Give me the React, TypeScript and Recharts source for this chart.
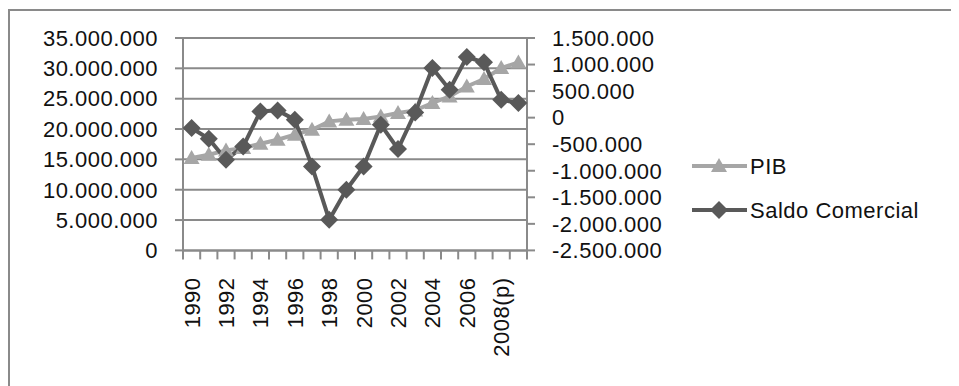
import React from 'react'
import { LineChart, Line, XAxis, YAxis, CartesianGrid } from 'recharts'

// anos (2008 e 2009 são projeções)
const anos = [
  '1990', '1991', '1992', '1993', '1994', '1995', '1996', '1997', '1998', '1999',
  '2000', '2001', '2002', '2003', '2004', '2005', '2006', '2007', '2008(p)', '2009(p)',
]

const pib = [
  15220000, 15770000, 16480000, 16870000, 17580000, 18240000, 19070000, 19890000, 21260000, 21540000,
  21650000, 22080000, 22640000, 23070000, 24290000, 25380000, 27020000, 28240000, 30060000, 30980000,
]

const saldoComercial = [
  -195000, -397000, -792000, -541000, 118000, 137000, -39000, -918000, -1922000, -1357000,
  -918000, -133000, -590000, 99000, 935000, 526000, 1142000, 1041000, 338000, 276000,
]

const ticksPib = [0, 5000000, 10000000, 15000000, 20000000, 25000000, 30000000, 35000000]
const ticksSaldo = [-2500000, -2000000, -1500000, -1000000, -500000, 0, 500000, 1000000, 1500000]

const data = anos.map((ano, i) => ({ ano, pib: pib[i], saldo: saldoComercial[i] }))

const W = 949
const H = 375
const LEFT_W = 173
const RIGHT_W = 150
const MARGIN_RIGHT = 282
const PLOT_W = W - LEFT_W - RIGHT_W - MARGIN_RIGHT
const HALF = PLOT_W / anos.length / 2

const FONT = "'Liberation Sans', Arial, sans-serif"
const GRID = '#8a8a8a'
const DARK = '#595959'
const LIGHT = '#a6a6a6'

const fmt = (v: number) => {
  const s = Math.abs(Math.round(v)).toString().replace(/\B(?=(\d{3})+(?!\d))/g, '.')
  return v < 0 ? '-' + s : s
}

const tickFont = { fontFamily: FONT, fontSize: 22, fill: '#111', letterSpacing: 0.5 }

const XTick = (props: any) => {
  const { x, y, index, payload } = props
  return (
    <g>
      <line x1={x - HALF} x2={x - HALF} y1={y} y2={y + 9} stroke={GRID} strokeWidth={2} />
      {index === anos.length - 1 && (
        <line x1={x + HALF} x2={x + HALF} y1={y} y2={y + 9} stroke={GRID} strokeWidth={2} />
      )}
      {index % 2 === 0 && (
        <text
          x={x}
          y={y + 27}
          dy="0.36em"
          textAnchor="end"
          transform={`rotate(-90, ${x}, ${y + 27})`}
          {...tickFont}
        >
          {payload.value}
        </text>
      )}
    </g>
  )
}

const Diamond = (props: any) => {
  const { cx, cy, index } = props
  if (cx == null || cy == null) return <g key={index} />
  const r = 9
  return <path key={index} d={`M${cx},${cy - r}L${cx + r},${cy}L${cx},${cy + r}L${cx - r},${cy}Z`} fill={DARK} />
}

const Triangle = (props: any) => {
  const { cx, cy, index } = props
  if (cx == null || cy == null) return <g key={index} />
  return <path key={index} d={`M${cx},${cy - 8}L${cx + 8},${cy + 6}L${cx - 8},${cy + 6}Z`} fill={LIGHT} />
}

export default function App() {
  return (
    <div
      style={{
        position: 'relative',
        width: W,
        height: H,
        marginTop: 1,
        borderTop: `2px solid ${GRID}`,
        borderLeft: `2px solid ${GRID}`,
      }}
    >
      <LineChart width={W} height={H} data={data} margin={{ top: 27, right: MARGIN_RIGHT, bottom: 0, left: 0 }}>
        <CartesianGrid yAxisId="pib" vertical={false} stroke={GRID} strokeWidth={2} />
        <XAxis
          dataKey="ano"
          interval={0}
          height={135.6}
          padding={{ left: HALF, right: HALF }}
          tickSize={0}
          tickMargin={0}
          tick={<XTick />}
          axisLine={{ stroke: GRID, strokeWidth: 2 }}
        />
        <YAxis
          yAxisId="pib"
          width={LEFT_W}
          domain={[0, 35000000]}
          ticks={ticksPib}
          interval={0}
          tickFormatter={fmt}
          tickSize={8}
          tickMargin={17}
          tick={tickFont}
          tickLine={{ stroke: GRID, strokeWidth: 2 }}
          axisLine={{ stroke: GRID, strokeWidth: 2 }}
        />
        <YAxis
          yAxisId="saldo"
          orientation="right"
          width={RIGHT_W}
          domain={[-2500000, 1500000]}
          ticks={ticksSaldo}
          interval={0}
          tickFormatter={fmt}
          tickSize={8}
          tickMargin={17}
          tick={tickFont}
          tickLine={{ stroke: GRID, strokeWidth: 2 }}
          axisLine={{ stroke: GRID, strokeWidth: 2 }}
        />
        <Line
          yAxisId="pib"
          dataKey="pib"
          stroke={LIGHT}
          strokeWidth={4}
          dot={<Triangle />}
          isAnimationActive={false}
        />
        <Line
          yAxisId="saldo"
          dataKey="saldo"
          stroke={DARK}
          strokeWidth={4}
          dot={<Diamond />}
          isAnimationActive={false}
        />
      </LineChart>
      <svg
        width={W}
        height={H}
        style={{ position: 'absolute', left: 0, top: 0, pointerEvents: 'none' }}
      >
        <g transform="translate(-10,-11)">
          <line x1={692} x2={747} y1={166} y2={166} stroke={LIGHT} strokeWidth={4} />
          <path d="M719,158L727,172L711,172Z" fill={LIGHT} />
          <text x={750} y={166} dy="0.36em" {...tickFont}>PIB</text>
          <line x1={692} x2={747} y1={210} y2={210} stroke={DARK} strokeWidth={4} />
          <path d="M719,201L728,210L719,219L710,210Z" fill={DARK} />
          <text x={750} y={210} dy="0.36em" {...tickFont}>Saldo Comercial</text>
        </g>
      </svg>
    </div>
  )
}
